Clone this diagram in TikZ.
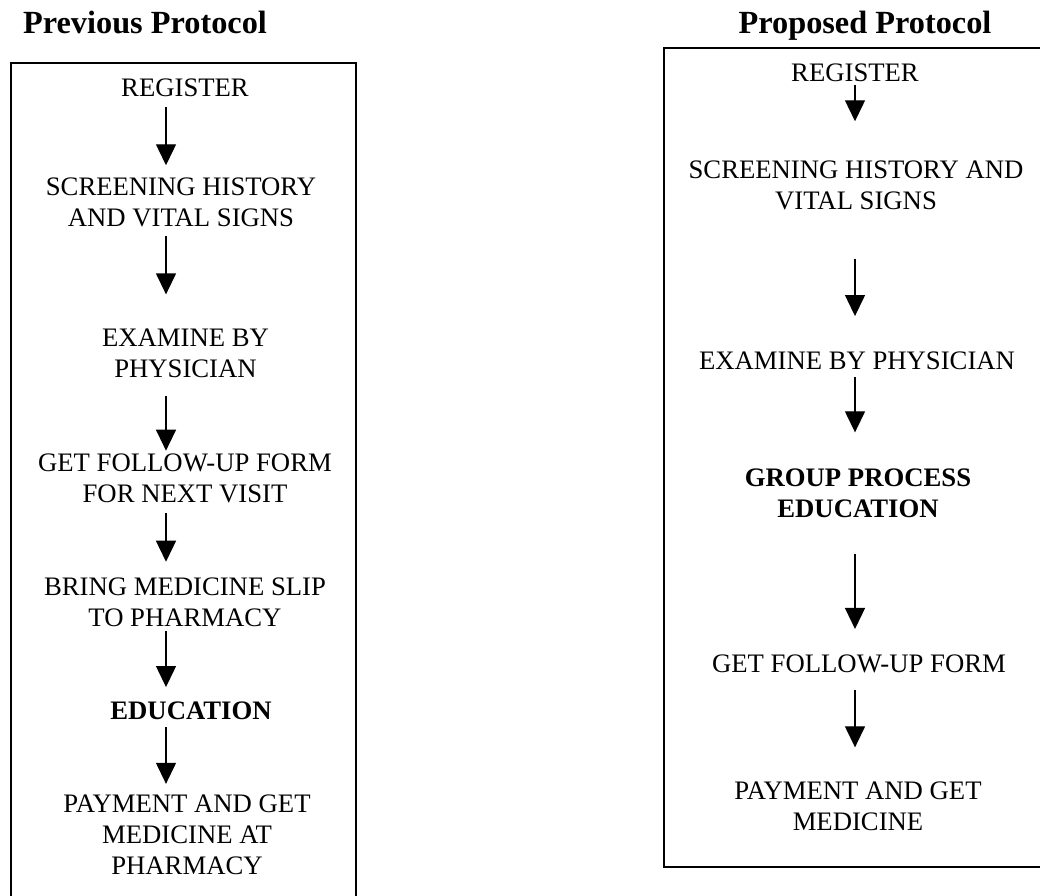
\documentclass[tikz,border=0pt]{standalone}
\usepackage{fontspec}
\setmainfont{Liberation Serif}
\usetikzlibrary{arrows.meta}

\begin{document}
\begin{tikzpicture}[x=1pt,y=-1pt,
    stage/.style={inner sep=0pt,align=center,font=\fontsize{26.7}{31}\selectfont},
    heading/.style={inner sep=0pt,anchor=base,font=\fontsize{32.3}{37}\selectfont\bfseries},
    flow/.style={-{Triangle[width=20pt,length=21pt]},line width=1.3pt},
    frame/.style={line width=1.3pt}]

    \useasboundingbox (0,0) rectangle (1040,895);
    \clip (0,0) rectangle (1040,895);

    % previous protocol
    \node[heading] (prevtitle) at (145,33) {Previous Protocol};
    \draw[frame] (11,910) -- (11,63) -- (356,63) -- (356,910);
    \coordinate (lcol) at (166,0);

    \node[stage] (lreg) at (185,88.2) {REGISTER};
    \node[stage] (lscr) at (181,202) {SCREENING HISTORY\\AND VITAL SIGNS};
    \node[stage] (lexa) at (185.5,353) {EXAMINE BY\\PHYSICIAN};
    \node[stage] (lfol) at (185,478.4) {GET FOLLOW-UP FORM\\FOR NEXT VISIT};
    \node[stage] (lbri) at (185,602.4) {BRING MEDICINE SLIP\\TO PHARMACY};
    \node[stage,font=\fontsize{26.7}{31}\selectfont\bfseries] (ledu) at (191,711.2) {EDUCATION};
    \node[stage] (lpay) at (187,835) {PAYMENT AND GET\\MEDICINE AT\\PHARMACY};

    \draw[flow,shorten <=10pt,shorten >=12pt] (lreg.south -| lcol) -- (lscr.north -| lcol);
    \draw[flow,shorten <=9pt,shorten >=34pt] (lscr.south -| lcol) -- (lexa.north -| lcol);
    \draw[flow,shorten <=18pt,shorten >=3pt] (lexa.south -| lcol) -- (lfol.north -| lcol);
    \draw[flow,shorten <=10pt,shorten >=16pt] (lfol.south -| lcol) -- (lbri.north -| lcol);
    \draw[flow,shorten <=4pt,shorten >=15pt] (lbri.south -| lcol) -- (ledu.north -| lcol);
    \draw[flow,shorten <=7pt,shorten >=11pt] (ledu.south -| lcol) -- (lpay.north -| lcol);

    % proposed protocol
    \node[heading] (proptitle) at (865,33) {Proposed Protocol};
    \draw[frame] (1060,48) -- (664,48) -- (664,867) -- (1060,867);
    \coordinate (rcol) at (855,0);

    \node[stage] (rreg) at (855,73.2) {REGISTER};
    \node[stage] (rscr) at (856,185) {SCREENING HISTORY AND\\VITAL SIGNS};
    \node[stage] (rexa) at (857,361.2) {EXAMINE BY PHYSICIAN};
    \node[stage,font=\fontsize{26.7}{31}\selectfont\bfseries] (rgrp) at (858,493) {GROUP PROCESS\\EDUCATION};
    \node[stage] (rfol) at (859,664.2) {GET FOLLOW-UP FORM};
    \node[stage] (rpay) at (858,806) {PAYMENT AND GET\\MEDICINE};

    \draw[flow,shorten <=3pt,shorten >=39pt] (rreg.south -| rcol) -- (rscr.north -| rcol);
    \draw[flow,shorten <=49pt,shorten >=36pt] (rscr.south -| rcol) -- (rexa.north -| rcol);
    \draw[flow,shorten <=7pt,shorten >=36pt] (rexa.south -| rcol) -- (rgrp.north -| rcol);
    \draw[flow,shorten <=36pt,shorten >=26pt] (rgrp.south -| rcol) -- (rfol.north -| rcol);
    \draw[flow,shorten <=17pt,shorten >=34pt] (rfol.south -| rcol) -- (rpay.north -| rcol);

\end{tikzpicture}
\end{document}
